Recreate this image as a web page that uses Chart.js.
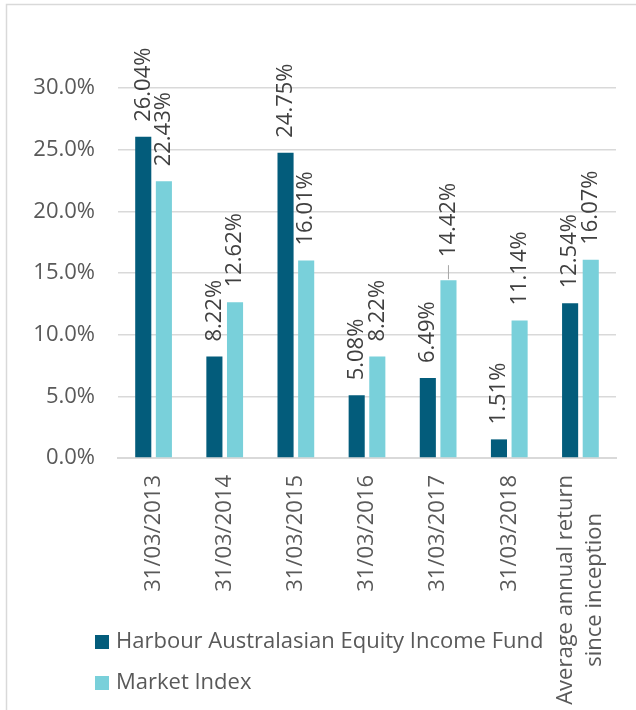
<!DOCTYPE html>
<html lang="en">
<head>
<meta charset="UTF-8">
<title>Harbour Australasian Equity Income Fund vs Market Index</title>
<script src="https://cdn.jsdelivr.net/npm/chart.js"></script>
<style>
  html, body { margin: 0; padding: 0; background: #fff; }
  #wrap { width: 636px; height: 710px; }
</style>
</head>
<body>
<div id="wrap"><canvas id="returnsChart"></canvas></div>
<script>
const categories = ['31/03/2013', '31/03/2014', '31/03/2015', '31/03/2016', '31/03/2017', '31/03/2018',
  ['Average annual return', 'since inception']];
const fundReturns = [26.04, 8.22, 24.75, 5.08, 6.49, 1.51, 12.54];
const indexReturns = [22.43, 12.62, 16.01, 8.22, 14.42, 11.14, 16.07];
const seriesNames = ['Harbour Australasian Equity Income Fund', 'Market Index'];

const FONT = "'Open Sans', 'Liberation Sans', sans-serif";
const axisGrey = '#595959';

// value labels rotated above each bar
const barLabels = {
  id: 'barLabels',
  afterDatasetsDraw(chart) {
    const ctx = chart.ctx;
    ctx.save();
    ctx.font = '22px ' + FONT;
    ctx.fillStyle = '#404040';
    ctx.textAlign = 'left';
    ctx.textBaseline = 'middle';
    chart.data.datasets.forEach((ds, di) => {
      chart.getDatasetMeta(di).data.forEach((bar, i) => {
        let lift = 15;
        // this one was pushed up in the original, with a leader line
        if (di === 1 && i === 4) {
          lift = 23;
          ctx.strokeStyle = '#a6a6a6';
          ctx.lineWidth = 1;
          ctx.beginPath();
          ctx.moveTo(bar.x, bar.y - 1);
          ctx.lineTo(bar.x, bar.y - 15);
          ctx.stroke();
        }
        ctx.save();
        ctx.translate(bar.x, bar.y - lift);
        ctx.rotate(-Math.PI / 2);
        ctx.fillText(ds.data[i].toFixed(2) + '%', 0, 0);
        ctx.restore();
      });
    });
    ctx.restore();
  }
};

// category labels turned 90°, multi-line ones centred on each other like Excel does
const xLabels = {
  id: 'xLabels',
  afterDraw(chart) {
    const ctx = chart.ctx;
    const xs = chart.scales.x;
    ctx.save();
    ctx.font = '22px ' + FONT;
    ctx.fillStyle = axisGrey;
    ctx.textAlign = 'center';
    ctx.textBaseline = 'middle';
    const lineH = 29;
    chart.data.labels.forEach((lab, i) => {
      const lines = Array.isArray(lab) ? lab : [lab];
      const maxW = Math.max(...lines.map(l => ctx.measureText(l).width));
      const cx = xs.getPixelForTick(i);
      const cy = xs.top + 17 + maxW / 2;
      lines.forEach((l, j) => {
        ctx.save();
        ctx.translate(cx + (j - (lines.length - 1) / 2) * lineH, cy);
        ctx.rotate(-Math.PI / 2);
        ctx.fillText(l, 0, 0);
        ctx.restore();
      });
    });
    ctx.restore();
  }
};

// frame + legend drawn by hand so it can sit beside the long last label
const frameAndLegend = {
  id: 'frameAndLegend',
  beforeDraw(chart) {
    const ctx = chart.ctx;
    ctx.save();
    ctx.strokeStyle = '#d9d9d9';
    ctx.lineWidth = 1.5;
    ctx.strokeRect(6.5, 4.5, 800, 900);
    ctx.restore();
  },
  afterDraw(chart) {
    const ctx = chart.ctx;
    ctx.save();
    ctx.font = '22px ' + FONT;
    ctx.textBaseline = 'middle';
    ctx.textAlign = 'left';
    const rows = [642, 683];
    chart.data.datasets.forEach((ds, di) => {
      ctx.fillStyle = ds.backgroundColor;
      ctx.fillRect(95, rows[di] - 7, 14, 14);
      ctx.fillStyle = axisGrey;
      ctx.fillText(ds.label, 116, rows[di]);
    });
    ctx.restore();
  }
};

new Chart(document.getElementById('returnsChart'), {
  type: 'bar',
  data: {
    labels: categories,
    datasets: [
      {
        label: seriesNames[0],
        data: fundReturns,
        backgroundColor: '#035c7b',
        categoryPercentage: 0.58,
        barPercentage: 0.78
      },
      {
        label: seriesNames[1],
        data: indexReturns,
        backgroundColor: '#79d0da',
        categoryPercentage: 0.58,
        barPercentage: 0.78
      }
    ]
  },
  options: {
    responsive: true,
    maintainAspectRatio: false,
    animation: false,
    layout: { padding: { top: 88, right: 20, bottom: 0, left: 0 } },
    plugins: {
      legend: { display: false },
      tooltip: { enabled: false }
    },
    scales: {
      x: {
        grid: { display: false },
        border: { color: '#d9d9d9', width: 2 },
        ticks: { display: false },
        afterFit(scale) { scale.height = 252; }
      },
      y: {
        min: 0,
        max: 30,
        grid: { color: '#d9d9d9', lineWidth: 1.5, drawTicks: false },
        border: { display: false },
        ticks: {
          stepSize: 5,
          color: axisGrey,
          font: { size: 22, family: FONT },
          padding: 23,
          callback: v => v.toFixed(1) + '%'
        },
        afterFit(scale) { scale.width = 118; }
      }
    }
  },
  plugins: [barLabels, xLabels, frameAndLegend]
});
</script>
</body>
</html>
